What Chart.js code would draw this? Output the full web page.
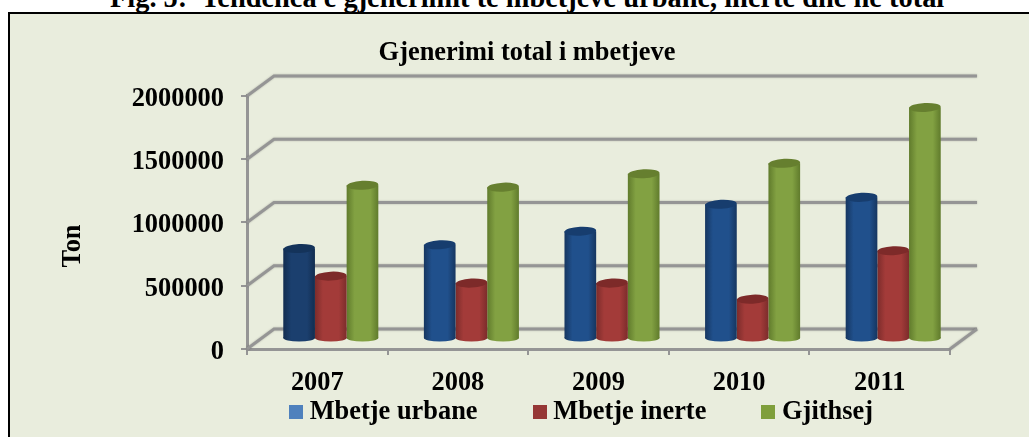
<!DOCTYPE html>
<html>
<head>
<meta charset="utf-8">
<title>Gjenerimi total i mbetjeve</title>
<script src="https://cdn.jsdelivr.net/npm/chart.js@4"></script>
<style>
  html, body { margin: 0; padding: 0; background: #fff; width: 1029px; height: 437px; overflow: hidden; }
  #caption { position: absolute; left: 110px; top: -17px; white-space: pre;
    font: bold 28.4px/30px "Liberation Serif", serif; color: #000; }
  #panel { position: absolute; left: 8px; top: 12px; width: 1030px; height: 440px;
    background: #e9eddd; border-left: 2px solid #000; border-top: 2px solid #000; }
  #grafik { position: absolute; left: 0; top: 0; }
</style>
</head>
<body>
<div id="caption">Fig. 5:  Tendenca e gjenerimit te mbetjeve urbane, inerte dhe ne total</div>
<div id="panel"></div>
<canvas id="grafik" width="1029" height="437"></canvas>
<script>
const vitet = ['2007', '2008', '2009', '2010', '2011'];
const mbetjeUrbane = [715000, 745000, 852000, 1065000, 1120000];
const mbetjeInerte = [497000, 442000, 442000, 315000, 698000];
const gjithsej = [1215000, 1200000, 1306000, 1389000, 1830000];
const yTicks = [0, 500000, 1000000, 1500000, 2000000];
const titulli = 'Gjenerimi total i mbetjeve';
const titulliY = 'Ton';

const FONT = '"Liberation Serif", serif';
const GRI = '#959595';
const thellesia = { dx: 27, dy: -20 };

// ngjyrat e cilindrave: anet, qendra, kapaku
const ngjyrat = [
  { ane: '#163660', qender: '#20508c', kapak: '#173d6e', legjende: '#4f81bd' },
  { ane: '#7c2c2b', qender: '#a33b39', kapak: '#7d2a29', legjende: '#953735' },
  { ane: '#607b2c', qender: '#82a142', kapak: '#667f2f', legjende: '#7f9f3b' }
];
const ngjyra2007 = { ane: '#122d50', qender: '#1b3f6e', kapak: '#14335a' };

function kuti(ngjyre) {
  const c = document.createElement('canvas');
  c.width = 14;
  c.height = 14;
  const g = c.getContext('2d');
  g.fillStyle = ngjyre;
  g.fillRect(0, 0, 14, 14);
  return c;
}

function gjeresiaShtylles(chart) {
  return chart.scales.x.width / vitet.length * 0.676 / 3;
}

function gradient(c) {
  const i = c.datasetIndex;
  if (c.dataIndex === undefined || !c.chart.chartArea) return ngjyrat[i].qender;
  const ng = (i === 0 && c.dataIndex === 0) ? ngjyra2007 : ngjyrat[i];
  const w = gjeresiaShtylles(c.chart);
  const x = c.chart.scales.x.getPixelForValue(c.dataIndex) + (i - 1) * w;
  const gr = c.chart.ctx.createLinearGradient(x - w / 2, 0, x + w / 2, 0);
  gr.addColorStop(0, ng.ane);
  gr.addColorStop(0.25, ng.qender);
  gr.addColorStop(0.75, ng.qender);
  gr.addColorStop(1, ng.ane);
  return gr;
}

const vendosja = {
  id: 'vendosja',
  afterLayout(chart) {
    chart.titleBlock.left = 0;
    chart.titleBlock.right = 1054;
    const lg = chart.legend;
    lg.left = 234;
    lg.right = 1029;
    lg.top = 337;
  }
};

const korniza = {
  id: 'korniza',
  beforeDatasetsDraw(chart) {
    const { ctx, chartArea: a, scales: { y } } = chart;
    ctx.save();
    ctx.strokeStyle = GRI;
    ctx.lineWidth = 3;
    ctx.shadowColor = 'rgba(0,0,0,0.25)';
    ctx.shadowBlur = 2;
    y.ticks.forEach(t => {
      const py = y.getPixelForValue(t.value);
      ctx.beginPath();
      ctx.moveTo(a.left, py);
      ctx.lineTo(a.left + thellesia.dx, py + thellesia.dy);
      ctx.lineTo(a.right + thellesia.dx, py + thellesia.dy);
      ctx.stroke();
    });
    ctx.beginPath();
    ctx.moveTo(a.right, a.bottom);
    ctx.lineTo(a.right + thellesia.dx, a.bottom + thellesia.dy);
    ctx.stroke();
    ctx.restore();
  },
  beforeDatasetDraw(chart) {
    chart.ctx.save();
    chart.ctx.translate(thellesia.dx / 2, thellesia.dy / 2);
  },
  afterDatasetDraw(chart, args) {
    const ctx = chart.ctx;
    args.meta.data.forEach((el, j) => {
      const ng = (args.index === 0 && j === 0) ? ngjyra2007 : ngjyrat[args.index];
      ctx.fillStyle = el.options.backgroundColor;
      ctx.beginPath();
      ctx.ellipse(el.x, el.base, el.width / 2, 3.5, 0, 0, Math.PI * 2);
      ctx.fill();
      ctx.fillStyle = ng.kapak;
      ctx.beginPath();
      ctx.ellipse(el.x, el.y, el.width / 2, 4.5, -0.05, 0, Math.PI * 2);
      ctx.fill();
    });
    ctx.restore();
  },
  afterDraw(chart) {
    const ctx = chart.ctx;
    ctx.save();
    ctx.translate(73, 246);
    ctx.rotate(-Math.PI / 2);
    ctx.font = 'bold 26.4px ' + FONT;
    ctx.fillStyle = '#000';
    ctx.textAlign = 'center';
    ctx.textBaseline = 'middle';
    ctx.fillText(titulliY, 0, 0);
    ctx.restore();
  }
};

new Chart(document.getElementById('grafik'), {
  type: 'bar',
  data: {
    labels: vitet,
    datasets: [
      { label: 'Mbetje urbane', data: mbetjeUrbane },
      { label: 'Mbetje inerte', data: mbetjeInerte },
      { label: 'Gjithsej', data: gjithsej }
    ]
  },
  options: {
    responsive: false,
    animation: false,
    clip: false,
    backgroundColor: gradient,
    borderWidth: 0,
    barPercentage: 1,
    categoryPercentage: 0.676,
    layout: { padding: { right: 79 } },
    scales: {
      x: {
        afterFit(s) { s.height = 48; },
        border: { color: GRI, width: 3 },
        grid: { drawOnChartArea: false, color: GRI, lineWidth: 2, tickLength: 6 },
        ticks: { color: '#000', padding: 12, font: { family: FONT, size: 26.4, weight: 'bold' } }
      },
      y: {
        min: yTicks[0],
        max: yTicks[yTicks.length - 1],
        afterFit(s) { s.width = 247; },
        border: { color: GRI, width: 3 },
        grid: { drawOnChartArea: false, color: GRI, lineWidth: 2, tickLength: 6 },
        ticks: {
          stepSize: yTicks[1],
          color: '#000',
          padding: 17,
          labelOffset: 3,
          font: { family: FONT, size: 26.4, weight: 'bold' },
          callback: v => String(v)
        }
      }
    },
    plugins: {
      tooltip: { enabled: false },
      title: {
        display: true,
        text: titulli,
        color: '#000',
        font: { family: FONT, size: 26.4, weight: 'bold' },
        padding: { top: 37, bottom: 27.3 }
      },
      legend: {
        position: 'bottom',
        align: 'start',
        maxHeight: 40,
        labels: {
          usePointStyle: true,
          pointStyleWidth: 1,
          padding: 61.5,
          color: '#000',
          font: { family: FONT, size: 26.4, weight: 'bold' },
          generateLabels: chart => chart.data.datasets.map((d, i) => ({
            text: d.label,
            pointStyle: kuti(ngjyrat[i].legjende),
            lineWidth: 0,
            fontColor: '#000',
            datasetIndex: i
          }))
        }
      }
    }
  },
  plugins: [vendosja, korniza]
});
</script>
</body>
</html>
